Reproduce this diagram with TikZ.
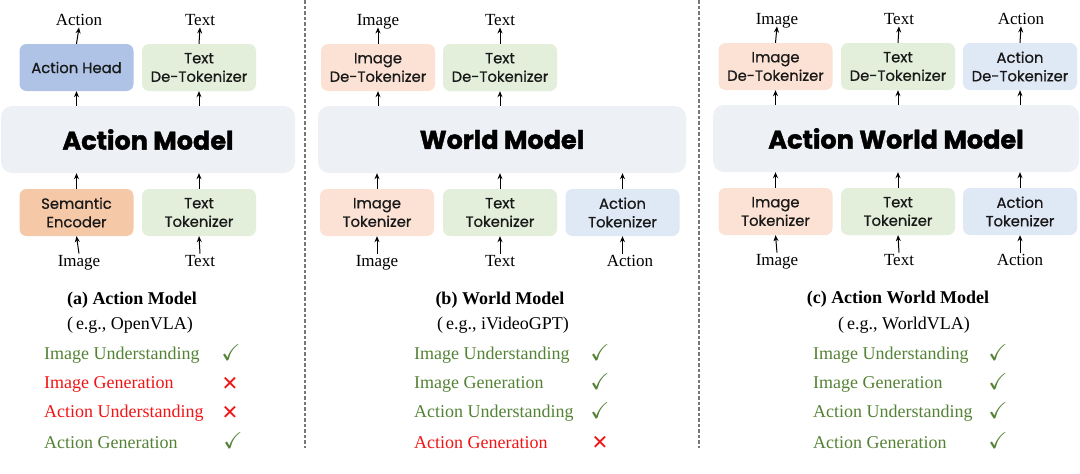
\documentclass[tikz,border=0pt]{standalone}
\usepackage{amssymb}
\usepackage{fontspec}
\setmainfont{Liberation Serif}
\newfontfamily\boxfont[FakeBold=0.6]{Poppins}
\newfontfamily\headfont[FakeBold=1.6]{Poppins}
\newfontfamily\symfont{DejaVu Sans}
\usetikzlibrary{arrows.meta}
\definecolor{bigc}{HTML}{EDF0F5}
\definecolor{imgc}{HTML}{FBE2D4}
\definecolor{txtc}{HTML}{E3EFDB}
\definecolor{actc}{HTML}{DFE8F5}
\definecolor{headc}{HTML}{AEC3E5}
\definecolor{semc}{HTML}{F5C8A8}
\definecolor{okc}{HTML}{548235}
\definecolor{noc}{HTML}{F01414}
\definecolor{sepc}{HTML}{777777}
\begin{document}
\begin{tikzpicture}[x=1pt,y=-1pt,
  blk/.style={rounded corners=7pt, minimum width=114pt, minimum height=47pt, inner sep=0pt,
    align=center, font=\boxfont\fontsize{14.8}{18.5}\selectfont, text=black!90},
  big/.style={rounded corners=11pt, fill=bigc, minimum height=67pt, inner sep=0pt,
    font=\headfont\bfseries\fontsize{25.5}{28}\selectfont},
  lbl/.style={font=\fontsize{17}{19}\selectfont, inner sep=1.5pt, text height=11.5pt, text depth=0pt},
  arr/.style={-{Stealth[length=6pt,width=5pt]}, line width=1pt, black},
  captxt/.style={font=\bfseries\fontsize{18}{20}\selectfont},
  eg/.style={font=\fontsize{18}{20}\selectfont},
  ok/.style={font=\fontsize{18}{20}\selectfont, text=okc, anchor=west, inner sep=0pt},
  no/.style={font=\fontsize{18}{20}\selectfont, text=noc, anchor=west, inner sep=0pt},
  yes/.style={font=\fontsize{23}{25}\selectfont, text=okc, inner sep=0pt},
  nay/.style={font=\symfont\bfseries\fontsize{20}{22}\selectfont, text=noc, inner sep=0pt},
  sepline/.style={sepc, line width=1.3pt, dash pattern=on 3.5pt off 2pt}]
\useasboundingbox (0,0) rectangle (1080,474);

% ---------- panel (a) ----------
\node[blk, fill=headc] (ah) at (76.5,67.5) {Action Head};
\node[blk, fill=txtc] (tda) at (199,67.5) {Text\\De-Tokenizer};
\node[big, minimum width=294pt] (am) at (148,139.5) {Action Model};
\node[blk, fill=semc] (se) at (76.5,212.5) {Semantic\\Encoder};
\node[blk, fill=txtc] (tta) at (199,212.5) {Text\\Tokenizer};
\node[lbl] (oa1) at (79,20) {Action};
\node[lbl] (oa2) at (200,20) {Text};
\node[lbl] (ia1) at (79,261) {Image};
\node[lbl] (ia2) at (200,261) {Text};
\draw[arr] (ah.north) -- (oa1.south);
\draw[arr] (tda.north) -- (oa2.south);
\draw[arr] (am.north -| ah) -- (ah.south);
\draw[arr] (am.north -| tda) -- (tda.south);
\draw[arr] (se.north) -- (am.south -| se);
\draw[arr] (tta.north) -- (am.south -| tta);
\draw[arr] (ia1.north) -- (se.south);
\draw[arr] (ia2.north) -- (tta.south);

% ---------- panel (b) ----------
\node[blk, fill=imgc] (idb) at (378,67.5) {Image\\De-Tokenizer};
\node[blk, fill=txtc] (tdb) at (500,67.5) {Text\\De-Tokenizer};
\node[big, minimum width=368pt] (wm) at (502,139.5) {World Model};
\node[blk, fill=imgc] (itb) at (377,212.5) {Image\\Tokenizer};
\node[blk, fill=txtc] (ttb) at (500,212.5) {Text\\Tokenizer};
\node[blk, fill=actc] (atb) at (622.5,212.5) {Action\\Tokenizer};
\node[lbl] (ob1) at (378,20) {Image};
\node[lbl] (ob2) at (500,20) {Text};
\node[lbl] (ib1) at (377,261) {Image};
\node[lbl] (ib2) at (500,261) {Text};
\node[lbl] (ib3) at (630,261) {Action};
\draw[arr] (idb.north) -- (ob1.south);
\draw[arr] (tdb.north) -- (ob2.south);
\draw[arr] (wm.north -| idb) -- (idb.south);
\draw[arr] (wm.north -| tdb) -- (tdb.south);
\draw[arr] (itb.north) -- (wm.south -| itb);
\draw[arr] (ttb.north) -- (wm.south -| ttb);
\draw[arr] (atb.north) -- (wm.south -| atb);
\draw[arr] (ib1.north) -- (itb.south);
\draw[arr] (ib2.north) -- (ttb.south);
\draw[arr] (ib3.north -| atb) -- (atb.south);

% ---------- panel (c) ----------
\node[blk, fill=imgc] (idc) at (775.5,66.5) {Image\\De-Tokenizer};
\node[blk, fill=txtc] (tdc) at (898,66.5) {Text\\De-Tokenizer};
\node[blk, fill=actc] (adc) at (1020,66.5) {Action\\De-Tokenizer};
\node[big, minimum width=366pt] (awm) at (896,138.5) {Action World Model};
\node[blk, fill=imgc] (itc) at (775.5,211.5) {Image\\Tokenizer};
\node[blk, fill=txtc] (ttc) at (898,211.5) {Text\\Tokenizer};
\node[blk, fill=actc] (atc) at (1020,211.5) {Action\\Tokenizer};
\node[lbl] (oc1) at (777,19) {Image};
\node[lbl] (oc2) at (899,19) {Text};
\node[lbl] (oc3) at (1021,19) {Action};
\node[lbl] (ic1) at (777,260) {Image};
\node[lbl] (ic2) at (899,260) {Text};
\node[lbl] (ic3) at (1020,260) {Action};
\draw[arr] (idc.north) -- (oc1.south);
\draw[arr] (tdc.north) -- (oc2.south);
\draw[arr] (adc.north) -- (oc3.south);
\draw[arr] (awm.north -| idc) -- (idc.south);
\draw[arr] (awm.north -| tdc) -- (tdc.south);
\draw[arr] (awm.north -| adc) -- (adc.south);
\draw[arr] (itc.north) -- (awm.south -| itc);
\draw[arr] (ttc.north) -- (awm.south -| ttc);
\draw[arr] (atc.north) -- (awm.south -| atc);
\draw[arr] (ic1.north) -- (itc.south);
\draw[arr] (ic2.north) -- (ttc.south);
\draw[arr] (ic3.north) -- (atc.south);

% ---------- separators ----------
\coordinate (s1a) at (305,0); \coordinate (s1b) at (305,448);
\coordinate (s2a) at (699,0); \coordinate (s2b) at (699,448);
\draw[sepline] (s1a) -- (s1b);
\draw[sepline] (s2a) -- (s2b);

% ---------- captions ----------
\node[captxt] (ca) at (132,300) {(a) Action Model};
\node[eg] (ea) at (130,325) {(\,e.g., OpenVLA)};
\node[captxt] (cb) at (500,300) {(b) World Model};
\node[eg] (eb) at (503,325) {(\,e.g., iVideoGPT)};
\node[captxt] (cc) at (898,299) {(c) Action World Model};
\node[eg] (ec) at (904,325) {(\,e.g., WorldVLA)};

% ---------- capability lists ----------
\node[ok] (a1) at (44,355) {Image Understanding};
\node[no] (a2) at (44,384) {Image Generation};
\node[no] (a3) at (44,413) {Action Understanding};
\node[ok] (a4) at (44,443) {Action Generation};
\node[yes] (ma1) at (231,353) {\checkmark};
\node[nay] (ma2) at (230,384) {✕};
\node[nay] (ma3) at (230,413) {✕};
\node[yes] (ma4) at (233,441) {\checkmark};

\node[ok] (b1) at (414,355) {Image Understanding};
\node[ok] (b2) at (414,384) {Image Generation};
\node[ok] (b3) at (414,413) {Action Understanding};
\node[no] (b4) at (414,443) {Action Generation};
\node[yes] (mb1) at (600,353) {\checkmark};
\node[yes] (mb2) at (600,382) {\checkmark};
\node[yes] (mb3) at (600,411) {\checkmark};
\node[nay] (mb4) at (600,443) {✕};

\node[ok] (c1) at (813,355) {Image Understanding};
\node[ok] (c2) at (813,384) {Image Generation};
\node[ok] (c3) at (813,413) {Action Understanding};
\node[ok] (c4) at (813,443) {Action Generation};
\node[yes] (mc1) at (998,353) {\checkmark};
\node[yes] (mc2) at (998,382) {\checkmark};
\node[yes] (mc3) at (998,411) {\checkmark};
\node[yes] (mc4) at (998,441) {\checkmark};
\end{tikzpicture}
\end{document}
